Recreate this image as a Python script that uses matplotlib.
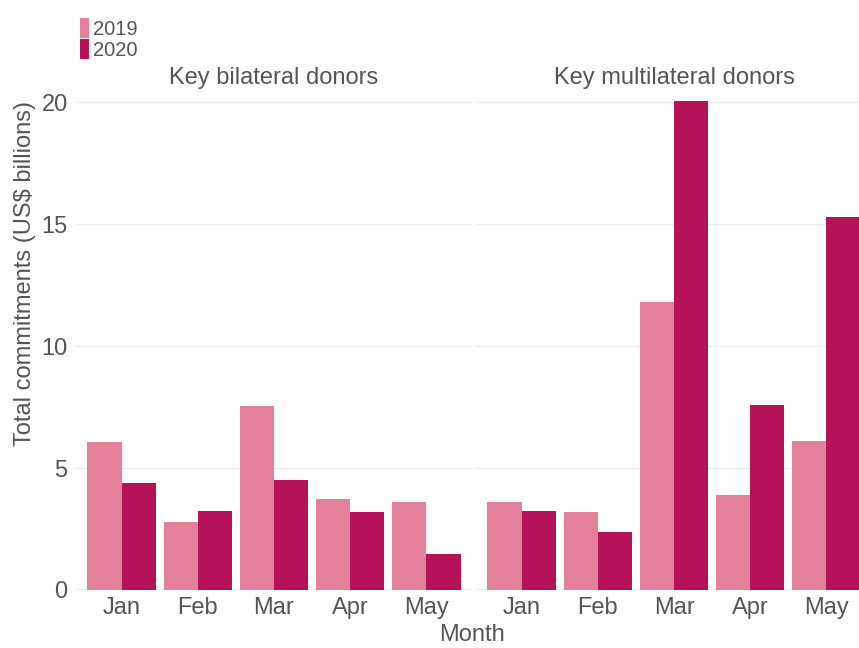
import matplotlib
matplotlib.use("Agg")
import matplotlib.pyplot as plt
import numpy as np

plt.rcParams['font.family'] = ['Liberation Sans', 'DejaVu Sans']

months = ["Jan", "Feb", "Mar", "Apr", "May"]
panels = ["Key bilateral donors", "Key multilateral donors"]
years = ["2019", "2020"]
bilateral_2019 = [6.08, 2.80, 7.55, 3.72, 3.62]
bilateral_2020 = [4.38, 3.24, 4.50, 3.21, 1.49]
multilateral_2019 = [3.60, 3.20, 11.80, 3.90, 6.13]
multilateral_2020 = [3.26, 2.39, 20.07, 7.58, 15.30]

colors = ["#E4809B", "#B5125A"]
text_col = "#555555"
FS = 17
W, H = 859, 648
fig = plt.figure(figsize=(W / 100, H / 100), dpi=100)
fig.patch.set_facecolor("white")

bottom_px, top_px = 590, 95
panel_x = [(76, 472), (476, 859)]
unit_px = (472 - 76) / 5.2
data = [(bilateral_2019, bilateral_2020), (multilateral_2019, multilateral_2020)]

x = np.arange(len(months))
bw = 0.45
handles = None
for i, (title, (v19, v20)) in enumerate(zip(panels, data)):
    l, r = panel_x[i]
    ax = fig.add_axes([l / W, (H - bottom_px) / H, (r - l) / W, (bottom_px - top_px) / H])
    ax.set_facecolor("white")
    for s in ax.spines.values():
        s.set_visible(False)
    ax.set_ylim(0, 20.3)
    ax.set_xlim(-0.6, -0.6 + (r - l) / unit_px)
    ax.set_yticks([0, 5, 10, 15, 20])
    ax.grid(axis="y", color="#EBEBEB", linewidth=1.0)
    ax.set_axisbelow(True)
    ax.axhline(0, color="#B0B0B0", linewidth=1.0, zorder=0)
    b1 = ax.bar(x - bw / 2, v19, width=bw, color=colors[0], label=years[0])
    b2 = ax.bar(x + bw / 2, v20, width=bw, color=colors[1], label=years[1])
    handles = [b1, b2]
    ax.set_xticks(x)
    ax.set_xticklabels(months, fontsize=FS, color=text_col)
    ax.tick_params(axis="both", length=0, pad=5)
    if i == 0:
        ax.set_yticklabels(["0", "5", "10", "15", "20"], fontsize=FS, color=text_col)
        ax.tick_params(axis="y", pad=6)
    else:
        ax.set_yticklabels([])
    fig.text(((l + l + 5.2 * unit_px) / 2) / W, 1 - 78 / H, title, ha="center", va="center",
             fontsize=FS, color=text_col)

fig.text(472 / W, 1 - 635 / H, "Month", ha="center", va="center", fontsize=FS, color=text_col)
fig.text(25 / W, 1 - 273 / H, "Total commitments (US$ billions)", ha="center", va="center",
         rotation=90, fontsize=FS, color=text_col)

leg = fig.legend(handles, years, loc="upper left", bbox_to_anchor=(66 / W, 1 - 4 / H),
                 frameon=False, fontsize=14.5, handlelength=0.45, handleheight=1.15,
                 handletextpad=0.2, labelspacing=0.0, borderpad=0.2)
for t in leg.get_texts():
    t.set_color(text_col)

fig.savefig("out.png", dpi=100, facecolor="white")
